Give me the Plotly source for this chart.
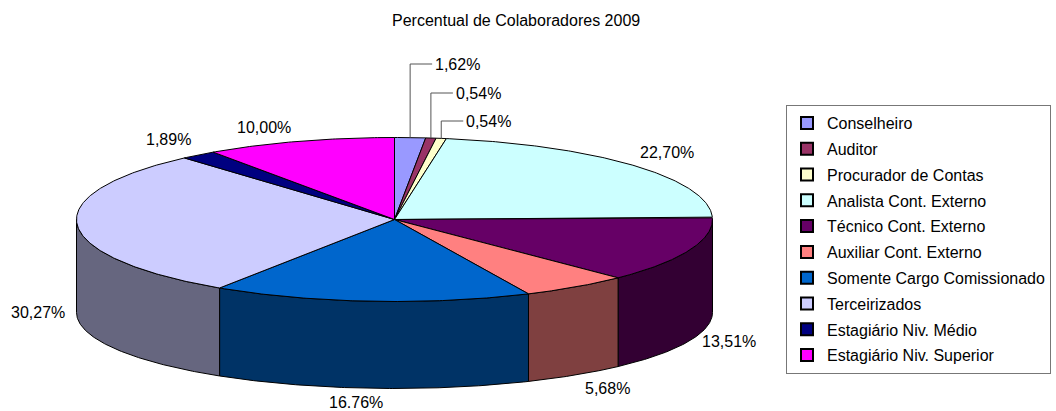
import numpy as np
import plotly.graph_objects as go

# ---- data ----
categories = ["Conselheiro", "Auditor", "Procurador de Contas", "Analista Cont. Externo",
              "Técnico Cont. Externo", "Auxiliar Cont. Externo", "Somente Cargo Comissionado",
              "Terceirizados", "Estagiário Niv. Médio", "Estagiário Niv. Superior"]
values = [1.62, 0.54, 0.54, 22.70, 13.51, 5.68, 16.76, 30.27, 1.89, 10.00]
value_labels = ["1,62%", "0,54%", "0,54%", "22,70%", "13,51%", "5,68%", "16.76%",
                "30,27%", "1,89%", "10,00%"]
title_text = "Percentual de Colaboradores 2009"

# ---- style / layout ----
colors = ["#9999FF", "#993366", "#FFFFCC", "#CCFFFF", "#660066",
          "#FF8080", "#0066CC", "#CCCCFF", "#000080", "#FF00FF"]
FONT = "Liberation Sans, Arial, sans-serif"
W, H = 1056, 411
CX, RX = 394.5, 318.0
CY_TOP, RY_TOP = 219.5, 82.0      # top face ellipse
CY_BOT, RY_BOT = 312.5, 76.0      # bottom rim ellipse (slight perspective)
LEADER_Y = {0: 64, 1: 93, 2: 121}  # label rows for crowded small slices
LEADER_RUN = 22
# label offsets (px) from the rim point at each slice's mid angle
LABEL_OFFSET = {3: (33, -13), 4: (39, 1), 5: (32, 14), 6: (-15, 14),
                7: (-39, -5), 8: (-30, -15), 9: (-35, -14)}


def darker(hexcol, f=0.5):
    h = hexcol.lstrip("#")
    r, g, b = (int(h[i:i + 2], 16) for i in (0, 2, 4))
    return "#%02x%02x%02x" % (int(r * f), int(g * f), int(b * f))


def pt(tdeg, bottom=False):
    t = np.radians(tdeg)
    if bottom:
        return CX + RX * np.sin(t), CY_BOT - RY_BOT * np.cos(t)
    return CX + RX * np.sin(t), CY_TOP - RY_TOP * np.cos(t)


def arc(a, b, bottom=False):
    n = max(3, int(abs(b - a) * 2))
    ts = np.linspace(a, b, n)
    xs, ys = pt(ts, bottom)
    return list(xs), list(ys)


total = float(sum(values))
cum = np.concatenate([[0.0], np.cumsum(values)]) / total * 360.0
starts, ends = cum[:-1], cum[1:]

fig = go.Figure()

# side walls (front half: 90..270 deg)
for i, (a, b) in enumerate(zip(starts, ends)):
    lo, hi = max(a, 90.0), min(b, 270.0)
    if hi <= lo:
        continue
    tx, ty = arc(lo, hi)
    bx, by = arc(hi, lo, bottom=True)
    xs = tx + bx + [tx[0]]
    ys = ty + by + [ty[0]]
    fig.add_trace(go.Scatter(x=xs, y=ys, mode="lines", fill="toself",
                             fillcolor=darker(colors[i]),
                             line=dict(color="black", width=1),
                             hoverinfo="skip", showlegend=False))

# top faces
for i, (a, b) in enumerate(zip(starts, ends)):
    ax, ay = arc(a, b)
    xs = [CX] + ax + [CX]
    ys = [CY_TOP] + ay + [CY_TOP]
    fig.add_trace(go.Scatter(x=xs, y=ys, mode="lines", fill="toself",
                             fillcolor=colors[i],
                             line=dict(color="black", width=1),
                             hoverinfo="skip", showlegend=False))

# data labels
annotations = []
lab_font = dict(family=FONT, size=16, color="black")
for i, (a, b) in enumerate(zip(starts, ends)):
    m = (a + b) / 2.0
    if i in LEADER_Y:
        x0, y0 = pt(m)
        ly = LEADER_Y[i]
        fig.add_trace(go.Scatter(x=[x0, x0, x0 + LEADER_RUN], y=[y0, ly, ly], mode="lines",
                                 line=dict(color="#555555", width=1),
                                 hoverinfo="skip", showlegend=False))
        annotations.append(dict(x=x0 + LEADER_RUN + 1, y=ly, xref="x", yref="y",
                                text=value_labels[i], showarrow=False,
                                xanchor="left", yanchor="middle", font=lab_font))
    else:
        front = np.cos(np.radians(m)) < 0
        px, py = pt(m, bottom=front)
        dx, dy = LABEL_OFFSET[i]
        ly = min(py + dy, H - 9)
        annotations.append(dict(x=px + dx, y=ly, xref="x", yref="y",
                                text=value_labels[i], showarrow=False,
                                xanchor="center", yanchor="middle", font=lab_font))

# legend entries
for i, name in enumerate(categories):
    fig.add_trace(go.Scatter(x=[None], y=[None], mode="markers", name=name,
                             legendgroup="g%d" % i,
                             marker=dict(symbol="square", size=10, color=colors[i],
                                         line=dict(color="black", width=1))))

annotations.append(dict(x=516 / W, y=1 - 20 / H, xref="paper", yref="paper",
                        text=title_text, showarrow=False, xanchor="center",
                        yanchor="middle", font=lab_font))

fig.update_layout(
    width=W, height=H,
    margin=dict(l=0, r=0, t=0, b=0),
    paper_bgcolor="white", plot_bgcolor="white",
    xaxis=dict(range=[0, W], visible=False, fixedrange=True),
    yaxis=dict(range=[H, 0], visible=False, fixedrange=True),
    annotations=annotations,
    showlegend=True,
    legend=dict(x=786 / W, y=1 - 105 / H, xanchor="left", yanchor="top",
                bordercolor="#777777", borderwidth=1, bgcolor="white",
                font=lab_font, tracegroupgap=2, itemsizing="constant"),
)

fig.write_html("out.html", config={"displayModeBar": False},
               post_script="document.body.style.margin='0';")
